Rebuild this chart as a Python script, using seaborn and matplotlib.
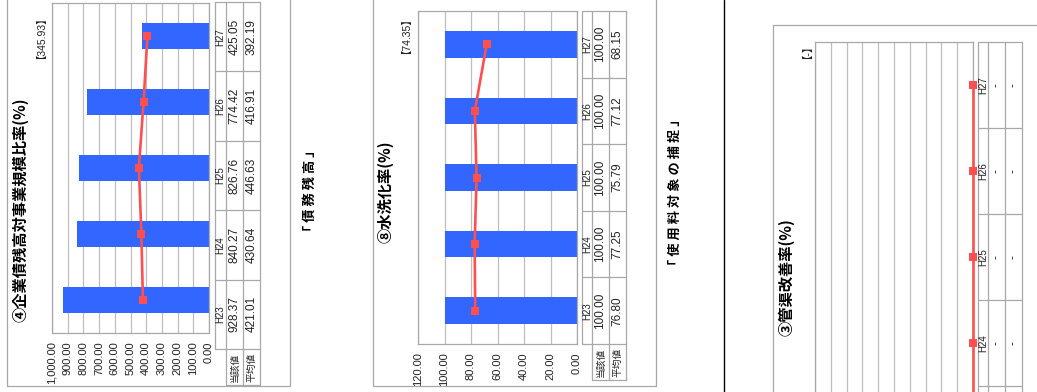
import numpy as np
import pandas as pd
import matplotlib
matplotlib.use("Agg")
import matplotlib.pyplot as plt
from matplotlib import font_manager
import seaborn as sns

# ---- data -------------------------------------------------------------
years = ["H23", "H24", "H25", "H26", "H27"]
row_headers = ["当該値", "平均値"]

# ④ 企業債残高対事業規模比率 (%)
debt_title = "④企業債残高対事業規模比率(%)"
debt_value = [928.37, 840.27, 826.76, 774.42, 425.05]
debt_avg = [421.01, 430.64, 446.63, 416.91, 392.19]
debt_ref = "【345.93】"
debt_ticks = [0, 100, 200, 300, 400, 500, 600, 700, 800, 900, 1000]

# ⑧ 水洗化率 (%)
flush_title = "⑧水洗化率(%)"
flush_value = [100.00, 100.00, 100.00, 100.00, 100.00]
flush_avg = [76.80, 77.25, 75.79, 77.12, 68.15]
flush_ref = "【74.35】"
flush_ticks = [0, 20, 40, 60, 80, 100, 120]

# ③ 管渠改善率 (%)  -- no figures reported ("-")
pipe_title = "③管渠改善率(%)"
pipe_value = [np.nan, np.nan, np.nan, np.nan, np.nan]
pipe_avg = [np.nan, np.nan, np.nan, np.nan, np.nan]
pipe_ref = "【-】"
pipe_ticks = [0.0, 0.1, 0.2, 0.3, 0.4, 0.5, 0.6, 0.7, 0.8, 0.9, 1.0]

section_debt = "「 債 務 残 高 」"
section_usage = "「 使 用 料 対 象 の 捕 捉 」"

# ---- style ------------------------------------------------------------
sns.set_style("white")
plt.rcParams["font.family"] = ["Noto Sans CJK JP", "DejaVu Sans"]
installed = {f.name for f in font_manager.fontManager.ttflist}
NUM_FONT = (["Liberation Sans Narrow", "Noto Sans CJK JP"]
            if "Liberation Sans Narrow" in installed
            else ["Liberation Sans", "Noto Sans CJK JP"])

BLUE = "#3366FF"
RED = "#FF4F4F"
GRID = "#BFBFBF"
FRAME = "#A8A8A8"
TXT = "#222222"

W, H = 1037, 392
fig = plt.figure(figsize=(W / 100, H / 100), dpi=100)
fig.patch.set_facecolor("white")

# page-level layer in pixel coordinates (frames, tables, captions)
bg = fig.add_axes([0, 0, 1, 1], zorder=0)
bg.set_xlim(0, W)
bg.set_ylim(H, 0)
bg.axis("off")


def rect_px(x0, y0, x1, y1):
    return [x0 / W, 1 - y1 / H, (x1 - x0) / W, (y1 - y0) / H]


def box(x0, y0, x1, y1, color=FRAME, lw=0.9):
    bg.plot([x0, x1, x1, x0, x0], [y0, y0, y1, y1, y0],
            color=color, lw=lw, solid_capstyle="butt", clip_on=False)


def fmt_val(v):
    return "-" if (v is None or (isinstance(v, float) and np.isnan(v))) else f"{v:.2f}"


def draw_panel(title, ref, values, avgs, ticks, tick_fmt, plot_px, cols,
               rows_top, rows_bottom, header_bottom, title_xy, ref_xy,
               frame_px, show_ticklabels=True):
    # outer frame
    box(*frame_px)

    # title and reference value
    bg.text(*title_xy, title, rotation=90, ha="center", va="center",
            fontsize=11, fontweight="bold", color="black")
    bg.text(*ref_xy, ref, rotation=90, ha="center", va="center",
            fontsize=7.5, color=TXT, family=NUM_FONT)

    # chart: categories run bottom (H23) to top (H27), values grow leftward
    order = years[::-1]
    df = pd.DataFrame({"year": years,
                       "value": values,
                       "avg": pd.Series(avgs, dtype=float).fillna(0.0)})
    ax = fig.add_axes(rect_px(*plot_px), zorder=2)
    ax.set_facecolor("white")
    if df["value"].notna().any():
        sns.barplot(data=df, x="value", y="year", order=order, orient="h",
                    color=BLUE, saturation=1, width=0.4, linewidth=0, ax=ax)
    n_before = len(ax.lines) + len(ax.collections)
    sns.pointplot(data=df, x="avg", y="year", order=order, orient="h",
                  color=RED, markers="s", markersize=4.8, linewidth=1.9,
                  errorbar=None, ax=ax)
    # the average line may sit on the plot edge; keep it fully visible
    for art in list(ax.lines) + list(ax.collections):
        art.set_clip_on(False)
        art.set_zorder(5)
    ax.set_ylim(4.5, -0.5)
    ax.set_xlim(ticks[-1], ticks[0])
    ax.set_xticks(ticks)
    if show_ticklabels:
        ax.set_xticklabels([tick_fmt(t) for t in ticks], rotation=90,
                           fontsize=8, color=TXT, family=NUM_FONT)
    else:
        ax.set_xticklabels([])
    ax.tick_params(axis="x", length=0, pad=6)
    ax.tick_params(axis="y", left=False, labelleft=False)
    ax.set_xlabel("")
    ax.set_ylabel("")
    ax.grid(axis="x", color=GRID, lw=0.9)
    ax.grid(axis="y", visible=False)
    ax.set_axisbelow(True)
    for sp in ax.spines.values():
        sp.set_visible(True)
        sp.set_color(FRAME)
        sp.set_linewidth(0.9)

    # data table to the right of the chart
    c0, c1, c2, c3 = cols
    edges = np.linspace(rows_top, rows_bottom, len(years) + 1)
    for e in edges:
        bg.plot([c0, c3], [e, e], color=FRAME, lw=0.9, clip_on=True)
    for c in cols:
        bg.plot([c, c], [rows_top, rows_bottom], color=FRAME, lw=0.9)
    for c in (c1, c2, c3):
        bg.plot([c, c], [rows_bottom, header_bottom], color=FRAME, lw=0.9)
    bg.plot([c1, c3], [header_bottom, header_bottom], color=FRAME, lw=0.9)

    for k, yr in enumerate(order):
        yc = (edges[k] + edges[k + 1]) / 2
        if yc > H:
            continue
        j = years.index(yr)
        bg.text((c0 + c1) / 2, yc, yr, rotation=90, ha="center", va="center",
                fontsize=7, color=TXT, family=NUM_FONT)
        bg.text((c1 + c2) / 2, yc, fmt_val(values[j]), rotation=90,
                ha="center", va="center", fontsize=8.5, color=TXT,
                family=NUM_FONT)
        bg.text((c2 + c3) / 2, yc, fmt_val(avgs[j]), rotation=90,
                ha="center", va="center", fontsize=8.5, color=TXT,
                family=NUM_FONT)
    hy = (rows_bottom + header_bottom) / 2
    if hy < H:
        bg.text((c1 + c2) / 2, hy, row_headers[0], rotation=90,
                ha="center", va="center", fontsize=7, color=TXT)
        bg.text((c2 + c3) / 2, hy, row_headers[1], rotation=90,
                ha="center", va="center", fontsize=7, color=TXT)


draw_panel(debt_title, debt_ref, debt_value, debt_avg, debt_ticks,
           lambda t: f"{t:,.2f}",
           plot_px=(52, 3, 209, 333), cols=(215, 226, 243, 260),
           rows_top=2, rows_bottom=349, header_bottom=385,
           title_xy=(20, 210), ref_xy=(36, 33), frame_px=(7, -5, 290, 386))

draw_panel(flush_title, flush_ref, flush_value, flush_avg, flush_ticks,
           lambda t: f"{t:,.2f}",
           plot_px=(418, 11, 577, 344), cols=(582, 592, 609, 626),
           rows_top=11, rows_bottom=344, header_bottom=380,
           title_xy=(385, 192), ref_xy=(401, 31), frame_px=(373, -5, 656, 386))

draw_panel(pipe_title, pipe_ref, pipe_value, pipe_avg, pipe_ticks,
           lambda t: f"{t:,.2f}",
           plot_px=(815, 42, 973, 472), cols=(978, 988, 1005, 1022),
           rows_top=42, rows_bottom=472, header_bottom=508,
           title_xy=(786, 277), ref_xy=(802, 47), frame_px=(773, 25, 1100, 520),
           show_ticklabels=False)

# section captions and divider
bg.text(310, 191, section_debt, rotation=90, ha="center", va="center",
        fontsize=9.5, fontweight="bold", color="black")
bg.text(675, 192, section_usage, rotation=90, ha="center", va="center",
        fontsize=9.5, fontweight="bold", color="black")
bg.plot([724, 724], [0, H], color="black", lw=1.0)

fig.savefig("out.png", dpi=100, facecolor="white")
